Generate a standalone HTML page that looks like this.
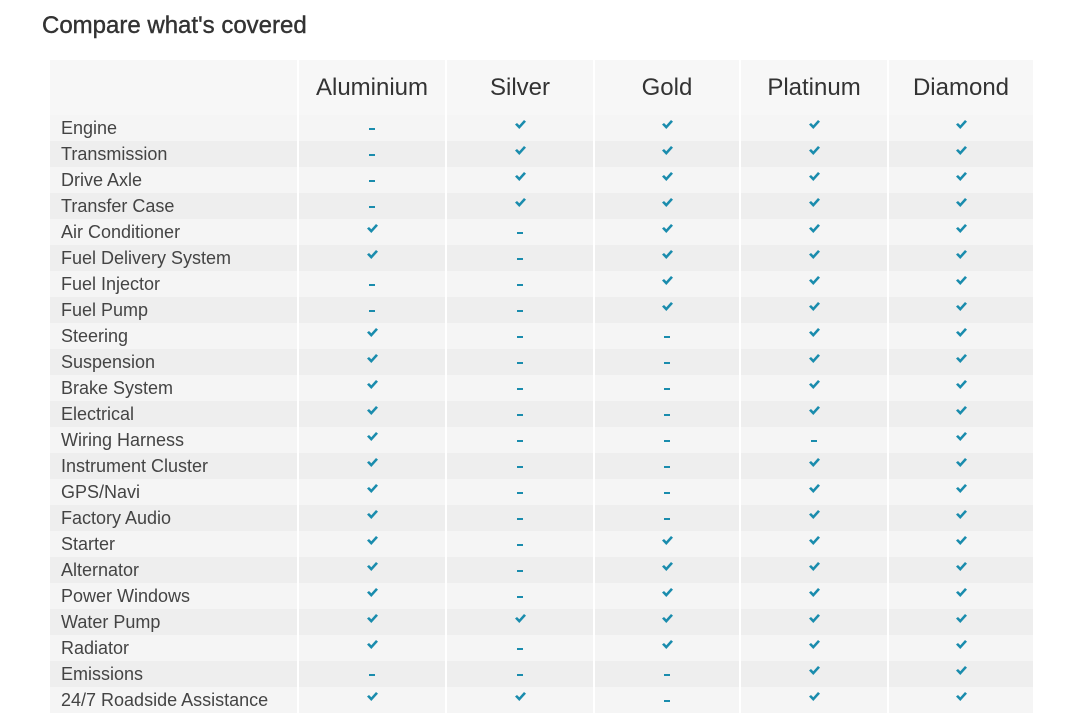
<!DOCTYPE html>
<html><head><meta charset="utf-8"><style>
body{margin:0;width:1080px;height:727px;background:#fff;font-family:"Liberation Sans",Arial,sans-serif;overflow:hidden;position:relative}
h1{position:absolute;left:42px;top:12px;margin:0;font-size:24px;font-weight:normal;color:#333;-webkit-text-stroke:0.4px #333}
table{position:absolute;left:50px;top:60px;border-collapse:collapse;table-layout:fixed;width:983px}
td,th{padding:0;border-left:2px solid #fff;height:26px}
tr td:first-child,tr th:first-child{border-left:none}
th{height:54px;background:#f7f7f7;font-weight:normal;font-size:24px;color:#333;padding-top:1px}
tbody tr:nth-child(odd) td{background:#f5f5f5}
tbody tr:nth-child(even) td{background:#eeeeee}
td{text-align:center}
td.l{font-size:18px;color:#444;padding-left:11px;text-align:left}
.d{display:inline-block;width:6px;height:2px;background:#1a8cad;vertical-align:middle;margin-top:2px}
</style></head><body>
<h1>Compare what's covered</h1>
<svg width="0" height="0" style="position:absolute"><defs><symbol id="k" viewBox="0 0 11 9"><path d="M0 4.5 L2 3 L4.3 5.2 L9 0 L11 1.6 L4.3 9 Z" fill="#1a8cad"/></symbol></defs></svg>
<table>
<colgroup><col style="width:248px"><col style="width:148px"><col style="width:148px"><col style="width:146px"><col style="width:148px"><col style="width:145px"></colgroup>
<thead><tr><th></th><th>Aluminium</th><th>Silver</th><th>Gold</th><th>Platinum</th><th>Diamond</th></tr></thead>
<tbody id="b">
<tr><td class="l">Engine</td><td>-</td><td>c</td><td>c</td><td>c</td><td>c</td></tr>
<tr><td class="l">Transmission</td><td>-</td><td>c</td><td>c</td><td>c</td><td>c</td></tr>
<tr><td class="l">Drive Axle</td><td>-</td><td>c</td><td>c</td><td>c</td><td>c</td></tr>
<tr><td class="l">Transfer Case</td><td>-</td><td>c</td><td>c</td><td>c</td><td>c</td></tr>
<tr><td class="l">Air Conditioner</td><td>c</td><td>-</td><td>c</td><td>c</td><td>c</td></tr>
<tr><td class="l">Fuel Delivery System</td><td>c</td><td>-</td><td>c</td><td>c</td><td>c</td></tr>
<tr><td class="l">Fuel Injector</td><td>-</td><td>-</td><td>c</td><td>c</td><td>c</td></tr>
<tr><td class="l">Fuel Pump</td><td>-</td><td>-</td><td>c</td><td>c</td><td>c</td></tr>
<tr><td class="l">Steering</td><td>c</td><td>-</td><td>-</td><td>c</td><td>c</td></tr>
<tr><td class="l">Suspension</td><td>c</td><td>-</td><td>-</td><td>c</td><td>c</td></tr>
<tr><td class="l">Brake System</td><td>c</td><td>-</td><td>-</td><td>c</td><td>c</td></tr>
<tr><td class="l">Electrical</td><td>c</td><td>-</td><td>-</td><td>c</td><td>c</td></tr>
<tr><td class="l">Wiring Harness</td><td>c</td><td>-</td><td>-</td><td>-</td><td>c</td></tr>
<tr><td class="l">Instrument Cluster</td><td>c</td><td>-</td><td>-</td><td>c</td><td>c</td></tr>
<tr><td class="l">GPS/Navi</td><td>c</td><td>-</td><td>-</td><td>c</td><td>c</td></tr>
<tr><td class="l">Factory Audio</td><td>c</td><td>-</td><td>-</td><td>c</td><td>c</td></tr>
<tr><td class="l">Starter</td><td>c</td><td>-</td><td>c</td><td>c</td><td>c</td></tr>
<tr><td class="l">Alternator</td><td>c</td><td>-</td><td>c</td><td>c</td><td>c</td></tr>
<tr><td class="l">Power Windows</td><td>c</td><td>-</td><td>c</td><td>c</td><td>c</td></tr>
<tr><td class="l">Water Pump</td><td>c</td><td>c</td><td>c</td><td>c</td><td>c</td></tr>
<tr><td class="l">Radiator</td><td>c</td><td>-</td><td>c</td><td>c</td><td>c</td></tr>
<tr><td class="l">Emissions</td><td>-</td><td>-</td><td>-</td><td>c</td><td>c</td></tr>
<tr><td class="l">24/7 Roadside Assistance</td><td>c</td><td>c</td><td>-</td><td>c</td><td>c</td></tr>
</tbody></table>
<script>
document.querySelectorAll('#b td:not(.l)').forEach(function(t){
 if(t.textContent==='c'){t.innerHTML='<svg width="11" height="9" style="vertical-align:middle;margin-top:-6px"><use href="#k"/></svg>';}
 else {t.innerHTML='<span class="d"></span>';}
});
</script>
</body></html>
